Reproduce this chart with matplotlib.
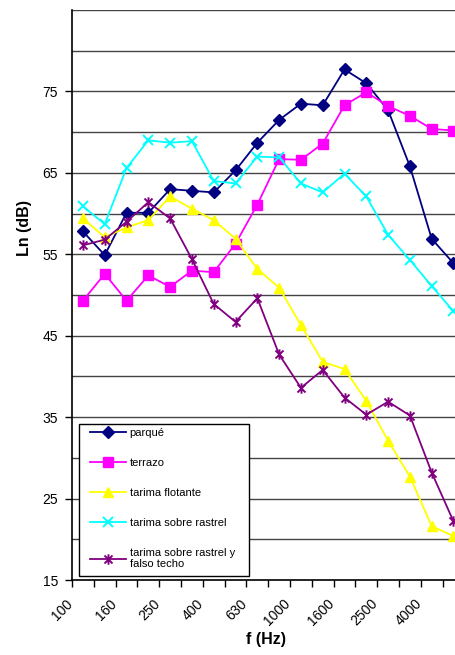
import matplotlib
matplotlib.use("Agg")
import matplotlib.pyplot as plt
import matplotlib.transforms as mtransforms
import numpy as np
from matplotlib.path import Path
from matplotlib.patches import Rectangle

plt.rcParams['font.family'] = ['Liberation Sans', 'DejaVu Sans']

# bandas de tercio de octava
freqs = ['100', '125', '160', '200', '250', '315', '400', '500', '630',
         '800', '1000', '1250', '1600', '2000', '2500', '3150', '4000', '5000']

parquet = [57.8, 54.9, 60.1, 60.1, 63.0, 62.8, 62.6, 65.3, 68.7,
           71.5, 73.5, 73.3, 77.7, 76.0, 72.7, 65.8, 56.9, 53.9]
terrazo = [49.3, 52.6, 49.3, 52.4, 51.0, 53.0, 52.8, 56.3, 61.1,
           66.7, 66.6, 68.6, 73.3, 74.9, 73.2, 72.0, 70.4, 70.2]
flotante = [59.4, 57.1, 58.3, 59.2, 62.1, 60.6, 59.2, 56.9, 53.2,
            50.9, 46.3, 41.8, 40.9, 37.0, 32.1, 27.7, 21.6, 20.4]
rastrel = [60.9, 58.7, 65.6, 69.0, 68.7, 68.9, 64.0, 63.7, 67.0,
           66.9, 63.7, 62.6, 64.9, 62.1, 57.4, 54.3, 51.1, 48.0]
rastrel_techo = [56.1, 56.8, 59.0, 61.4, 59.4, 54.4, 48.9, 46.7, 49.6,
                 42.7, 38.6, 40.8, 37.4, 35.3, 36.9, 35.2, 28.2, 22.2]

labels = ['parqué', 'terrazo', 'tarima flotante', 'tarima sobre rastrel',
          'tarima sobre rastrel y\nfalso techo']
colors = ['#000080', '#FF00FF', '#FFFF00', '#00FFFF', '#800080']

# asterisco tipo Excel: x + linea vertical
asterisco = Path([(-1, -1), (1, 1), (-1, 1), (1, -1), (0, -1.3), (0, 1.3)],
                 [Path.MOVETO, Path.LINETO, Path.MOVETO, Path.LINETO,
                  Path.MOVETO, Path.LINETO])
markers = ['D', 's', '^', 'x', asterisco]
msizes = [6, 7.5, 7.5, 7.5, 7.5]

fig = plt.figure(figsize=(4.56, 6.55), dpi=100)
ax = fig.add_axes([0.158, 0.1145, 0.842, 0.8702])

x = np.arange(len(freqs))
series = [parquet, terrazo, flotante, rastrel, rastrel_techo]
for s, lab, c, m, ms in zip(series, labels, colors, markers, msizes):
    filled = m in ('D', 's', '^')
    ax.plot(x, s, color=c, lw=1.3, marker=m, markersize=ms,
            markerfacecolor=c, markeredgecolor=c,
            markeredgewidth=1.0 if filled else 1.4, label=lab, clip_on=False)

# rejilla horizontal cada 5 dB
for v in range(20, 90, 5):
    ax.axhline(v, color='#444444', lw=1.0, zorder=0)

ax.set_yticks(range(15, 85, 10))
ax.tick_params(axis='y', direction='out', length=5, width=1, labelsize=10, pad=5)

# marcas en los limites de categoria, etiquetas cada dos bandas
ax.set_xticks(x[::2] - 0.5)
ax.set_xticklabels(freqs[::2], rotation=45, ha='right', va='top',
                   rotation_mode='anchor', fontsize=10)
ax.set_xticks(np.arange(len(freqs) + 1) - 0.5, minor=True)
ax.tick_params(axis='x', which='both', direction='out', length=5, width=1, pad=7)
desplaz = mtransforms.ScaledTranslation(-6.5 / 100, 0, fig.dpi_scale_trans)
for lbl in ax.get_xticklabels():
    lbl.set_transform(lbl.get_transform() + desplaz)

ax.set_xlim(-0.5, 17.115)
ax.set_ylim(15, 85)

for sp in ['top', 'right']:
    ax.spines[sp].set_visible(False)
ax.spines['left'].set_linewidth(1.2)
ax.spines['bottom'].set_linewidth(1.2)

ax.set_ylabel('Ln (dB)', fontsize=11.5, fontweight='bold')
ax.yaxis.set_label_coords(-0.104, 0.618)
ax.set_xlabel('f (Hz)', fontsize=11.5, fontweight='bold')
ax.xaxis.set_label_coords(0.505, -0.091)

# marco de la leyenda dibujado aparte
ax.add_patch(Rectangle((0.0182, 0.007), 0.4428, 0.2667, transform=ax.transAxes,
                       facecolor='white', edgecolor='black', lw=1.0,
                       zorder=5, clip_on=False))
leg = ax.legend(loc='upper left', bbox_to_anchor=(0.047, 0.267),
                borderaxespad=0, borderpad=0, fontsize=8, numpoints=1,
                handlelength=3.2, handletextpad=0.35, labelspacing=1.8,
                frameon=False)
leg.set_zorder(6)

fig.savefig('out.png', dpi=100)
